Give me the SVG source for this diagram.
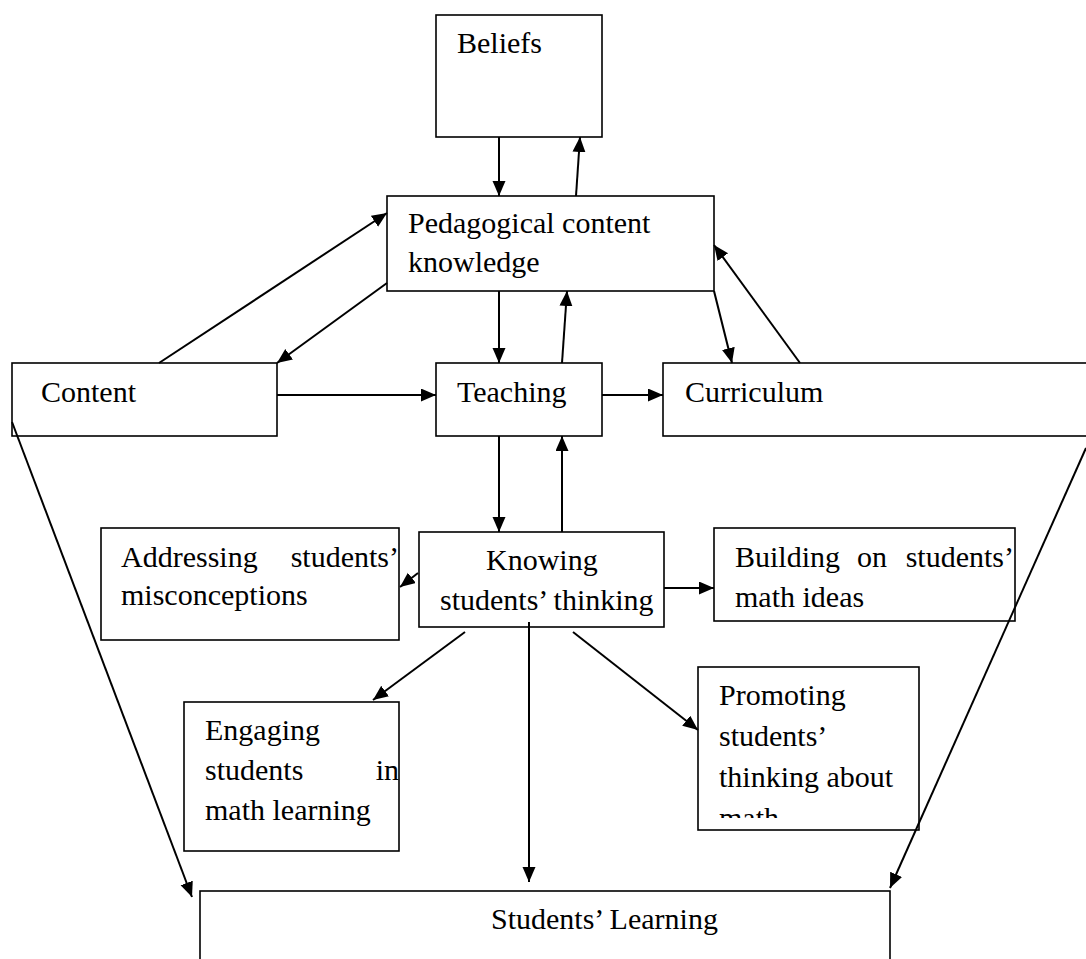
<svg xmlns="http://www.w3.org/2000/svg" width="1086" height="959" viewBox="0 0 1086 959">
<defs>
<marker id="ah" markerUnits="userSpaceOnUse" markerWidth="16" markerHeight="14" refX="15" refY="6.5" orient="auto">
<path d="M0,0 L15,6.5 L0,13 z" fill="#000"/>
</marker>
<clipPath id="clipPromo"><rect x="698" y="667" width="221" height="151"/></clipPath>
</defs>
<style>
.box{fill:#fff;stroke:#000;stroke-width:1.6}
.t{font-family:"Liberation Serif","Times New Roman",serif;font-size:30px;fill:#000}
.c line{stroke:#000;stroke-width:2;marker-end:url(#ah)}
</style>
<rect width="1086" height="959" fill="#fff"/>

<g id="beliefs"><rect class="box" x="436" y="15" width="166" height="122"/><text class="t" x="457" y="53">Beliefs</text></g>
<g id="pck"><rect class="box" x="387" y="196" width="327" height="95"/><text class="t" x="408" y="233">Pedagogical content</text><text class="t" x="408" y="272">knowledge</text></g>
<g id="content"><rect class="box" x="12" y="363" width="265" height="73"/><text class="t" x="41" y="402">Content</text></g>
<g id="teaching"><rect class="box" x="436" y="363" width="166" height="73"/><text class="t" x="457" y="402">Teaching</text></g>
<g id="curriculum"><rect class="box" x="663" y="363" width="450" height="73"/><text class="t" x="685" y="402">Curriculum</text></g>
<g id="knowing"><rect class="box" x="419" y="532" width="245" height="95"/><text class="t" x="486" y="570">Knowing</text><text class="t" x="440" y="610">students’ thinking</text></g>
<g id="addressing"><rect class="box" x="101" y="528" width="298" height="112"/><text class="t" x="121" y="567">Addressing</text><text class="t" x="399" y="567" text-anchor="end">students’</text><text class="t" x="121" y="605">misconceptions</text></g>
<g id="building"><rect class="box" x="714" y="528" width="301" height="93"/><text class="t" x="735" y="567">Building</text><text class="t" x="857" y="567">on</text><text class="t" x="1014" y="567" text-anchor="end">students’</text><text class="t" x="735" y="607">math ideas</text></g>
<g id="engaging"><rect class="box" x="184" y="702" width="215" height="149"/><text class="t" x="205" y="740">Engaging</text><text class="t" x="205" y="780">students</text><text class="t" x="399" y="780" text-anchor="end">in</text><text class="t" x="205" y="820">math learning</text></g>
<g id="promoting"><rect class="box" x="698" y="667" width="221" height="163"/><g clip-path="url(#clipPromo)"><text class="t" x="719" y="705">Promoting</text><text class="t" x="719" y="746">students’</text><text class="t" x="719" y="787">thinking about</text><text class="t" x="719" y="828">math</text></g></g>
<g id="learning"><rect class="box" x="200" y="891" width="690" height="100"/><text class="t" x="491" y="929">Students’ Learning</text></g>

<g id="connectors" class="c">
<line x1="499" y1="137" x2="499" y2="196"/>
<line x1="576" y1="196" x2="580" y2="137"/>
<line x1="159" y1="363" x2="387" y2="213"/>
<line x1="387" y1="283" x2="277" y2="363"/>
<line x1="714" y1="291" x2="732" y2="363"/>
<line x1="800" y1="363" x2="714" y2="245"/>
<line x1="499" y1="291" x2="499" y2="363"/>
<line x1="562" y1="363" x2="567" y2="291"/>
<line x1="277" y1="395" x2="436" y2="395"/>
<line x1="602" y1="395" x2="663" y2="395"/>
<line x1="499" y1="436" x2="499" y2="532"/>
<line x1="562" y1="532" x2="562" y2="436"/>
<line x1="418" y1="573" x2="400" y2="587"/>
<line x1="664" y1="588" x2="714" y2="588"/>
<line x1="465" y1="632" x2="373" y2="700"/>
<line x1="573" y1="632" x2="698" y2="730"/>
<line x1="529" y1="622" x2="529" y2="882"/>
<line x1="12" y1="422" x2="192" y2="897"/>
<line x1="1086" y1="448" x2="890" y2="888"/>
</g>
</svg>
